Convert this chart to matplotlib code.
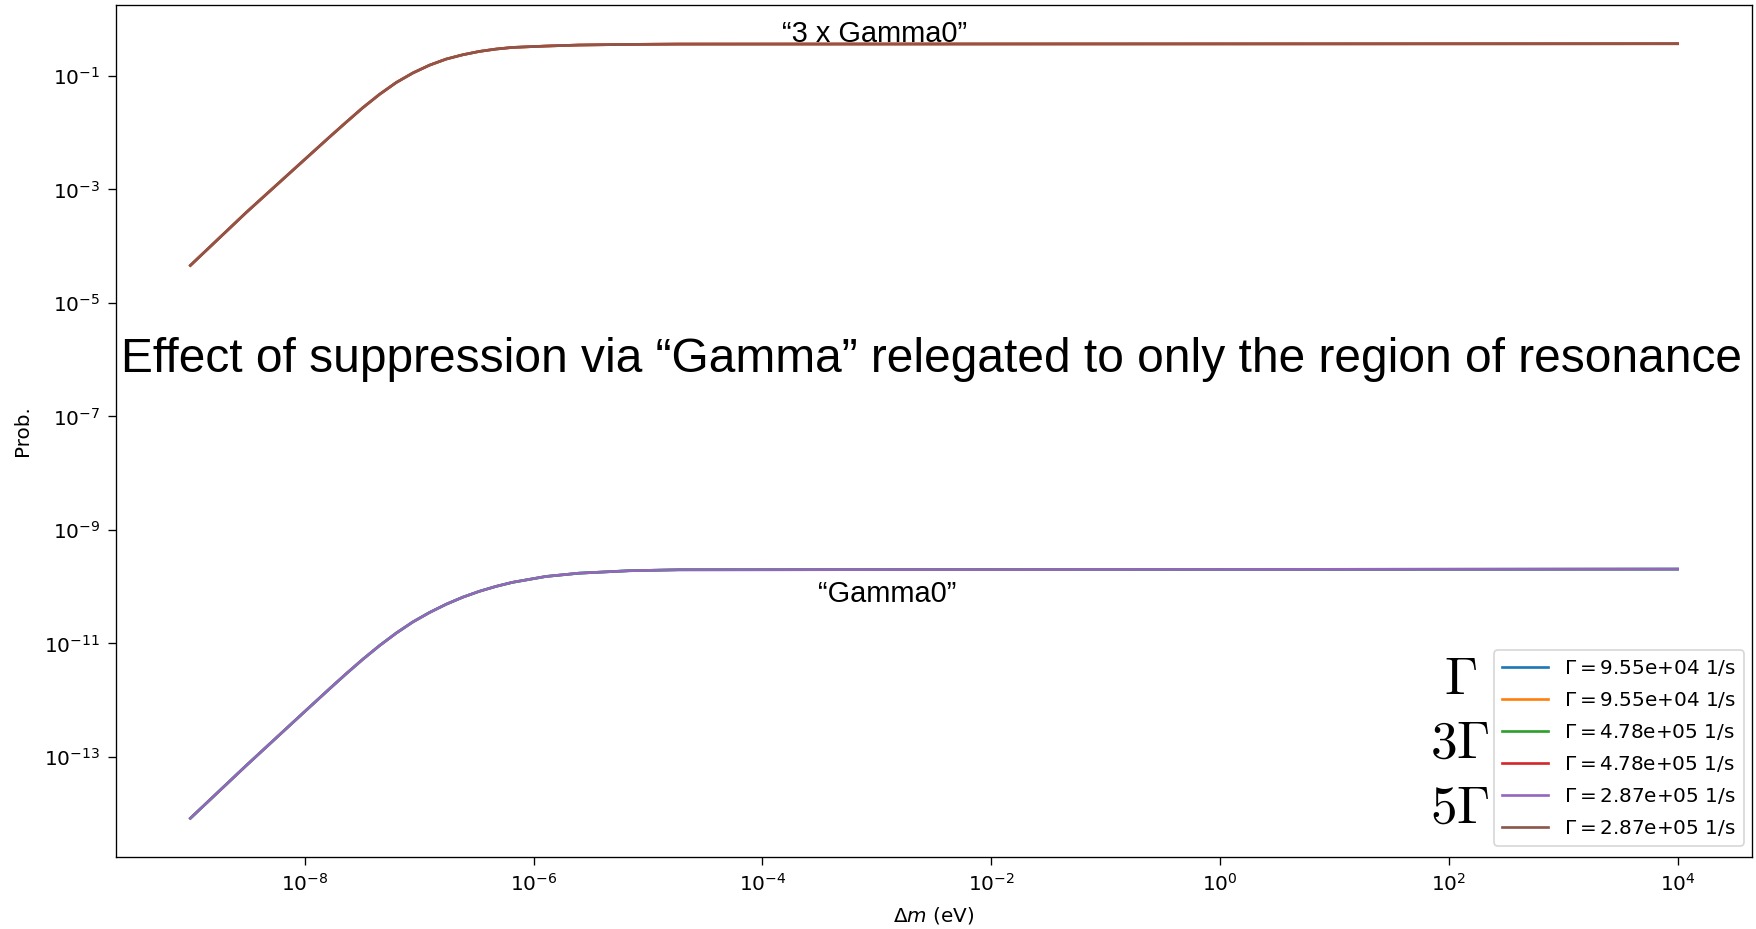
import numpy as np
import matplotlib
matplotlib.use("Agg")
import matplotlib.pyplot as plt
from matplotlib.ticker import FixedLocator, NullLocator

# Curves sampled as log10(mass splitting / eV) and log10(probability)
log_dm_upper = [-9.0, -8.508, -7.985, -7.782, -7.637, -7.492, -7.346, -7.201,
                -7.056, -6.910, -6.765, -6.620, -6.475, -6.329, -6.184, -5.893,
                -5.603, -5.167, -4.731, 4.0]
log_prob_upper = [-4.34, -3.400, -2.445, -2.075, -1.815, -1.560, -1.325, -1.118,
                  -0.950, -0.812, -0.705, -0.629, -0.570, -0.528, -0.499, -0.475,
                  -0.457, -0.446, -0.440, -0.434]

log_dm_lower = [-9.0, -8.508, -8.0, -7.782, -7.637, -7.492, -7.346, -7.201,
                -7.056, -6.910, -6.765, -6.620, -6.475, -6.329, -6.184, -5.893,
                -5.603, -5.167, -4.731, 4.0]
log_prob_lower = [-14.08, -13.144, -12.199, -11.796, -11.532, -11.278, -11.037,
                  -10.818, -10.622, -10.455, -10.310, -10.186, -10.082, -9.995,
                  -9.923, -9.820, -9.762, -9.719, -9.702, -9.690]

# Decay widths (1/s) of the six runs and which curve each one follows
gammas = [9.55e4, 9.55e4, 4.78e5, 4.78e5, 2.87e5, 2.87e5]
curve_of_run = ["lower", "upper", "lower", "upper", "lower", "upper"]

x_ticks = [1e-8, 1e-6, 1e-4, 1e-2, 1e0, 1e2, 1e4]
y_ticks = [1e-13, 1e-11, 1e-9, 1e-7, 1e-5, 1e-3, 1e-1]

W, H, DPI = 1756, 929, 120
fig = plt.figure(figsize=(W / DPI, H / DPI), dpi=DPI)
ax = fig.add_axes([116 / W, 1 - 857 / H, (1752 - 116) / W, (857 - 5) / H])

curves = {
    "upper": (10.0 ** np.array(log_dm_upper), 10.0 ** np.array(log_prob_upper)),
    "lower": (10.0 ** np.array(log_dm_lower), 10.0 ** np.array(log_prob_lower)),
}
for g, c in zip(gammas, curve_of_run):
    x, y = curves[c]
    ax.plot(x, y, lw=1.6, label=rf"$\Gamma = ${g:.2e} 1/s")

ax.set_xscale("log")
ax.set_yscale("log")
ax.set_xlabel(r"$\Delta m$ (eV)", fontsize=12, labelpad=6)
ax.set_ylabel("Prob.", fontsize=12, labelpad=7)
ax.tick_params(axis="both", which="major", labelsize=12, length=4.6, pad=5)
ax.xaxis.set_major_locator(FixedLocator(x_ticks))
ax.yaxis.set_major_locator(FixedLocator(y_ticks))
ax.xaxis.set_minor_locator(NullLocator())
ax.yaxis.set_minor_locator(NullLocator())

ax.legend(loc="lower right", bbox_to_anchor=(1744 / W, 1 - 846 / H),
          bbox_transform=fig.transFigure, borderaxespad=0, fontsize=12,
          handlelength=2.3, labelspacing=0.6)

# Annotations
sans = ["Liberation Sans", "DejaVu Sans"]
fig.text(875 / W, 1 - 41.7 / H, "\u201c3 x Gamma0\u201d", ha="center", va="baseline",
         fontsize=17.4, family=sans)
fig.text(887 / W, 1 - 602 / H, "\u201cGamma0\u201d", ha="center", va="baseline",
         fontsize=17.4, family=sans)
fig.text(121 / W, 1 - 372 / H,
         "Effect of suppression via \u201cGamma\u201d relegated to only the region of resonance",
         ha="left", va="baseline", fontsize=28.7, family=sans)

for lbl, yb in [(r"$\Gamma$", 694), (r"$3\Gamma$", 758), (r"$5\Gamma$", 823)]:
    fig.text(1460 / W, 1 - yb / H, lbl, ha="center", va="baseline", fontsize=32,
             math_fontfamily="cm")

fig.savefig("out.png", dpi=DPI)
